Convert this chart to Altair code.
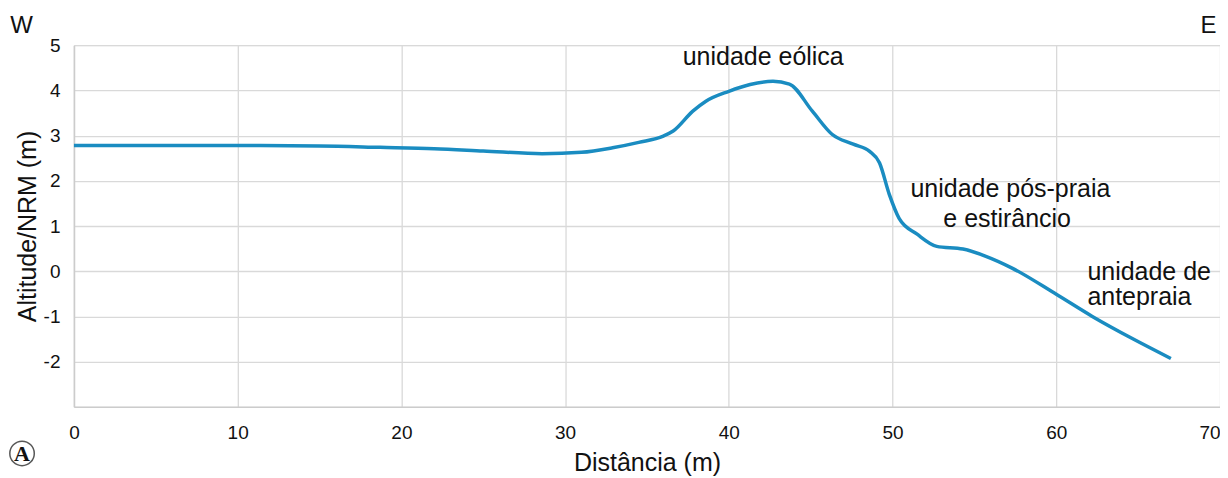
import altair as alt
import pandas as pd

# Profile data (distance m, altitude m)
dist = [0, 5, 10, 15, 18.7, 22, 25, 28.6, 31, 32.9, 34.5, 36.0, 36.6, 37.8, 38.6, 40.0,
        41.3, 42.7, 43.7, 45.1, 46.3, 47.6, 48.6, 49.2, 49.8, 50.4, 51.5, 52.7,
        54.3, 55.7, 57.3, 60.0, 62.2, 64.7, 67.0]
alt_m = [2.78, 2.78, 2.78, 2.77, 2.74, 2.71, 2.66, 2.60, 2.63, 2.73, 2.85, 2.99, 3.10, 3.54, 3.76, 3.98,
         4.13, 4.20, 4.14, 3.54, 3.03, 2.81, 2.65, 2.40, 1.70, 1.17, 0.82, 0.55,
         0.49, 0.33, 0.07, -0.51, -1.00, -1.50, -1.93]

# Annotations
ann_text = ["unidade eólica", "unidade pós-praia", "e estirâncio"]
ann_x = [42.1, 57.2, 57.0]
ann_y = [4.73, 1.81, 1.15]

ann2_text = ["unidade de", "antepraia"]
ann2_x = [61.9, 61.9]
ann2_y = [-0.02, -0.58]

side_text = ["W", "E"]
side_x = [-3.2, 69.3]
side_y = [5.27, 5.27]

x_ticks = [0, 10, 20, 30, 40, 50, 60, 70]
y_ticks = [-2, -1, 0, 1, 2, 3, 4, 5]

FONT = "Liberation Sans"
COLOR = "#1a8cc1"
TXT = 25

prof = pd.DataFrame({"x": dist, "y": alt_m})
ann = pd.DataFrame({"x": ann_x, "y": ann_y, "t": ann_text})
ann2 = pd.DataFrame({"x": ann2_x, "y": ann2_y, "t": ann2_text})
side = pd.DataFrame({"x": side_x, "y": side_y, "t": side_text})
badge = pd.DataFrame({"x": [-3.17], "y": [-4.03], "t": ["A"]})

xs = alt.Scale(domain=[0, 70], nice=False, zero=False)
ys = alt.Scale(domain=[-3, 5], nice=False, zero=False)

line = alt.Chart(prof).mark_line(color=COLOR, strokeWidth=3.5, interpolate="monotone").encode(
    x=alt.X("x:Q", scale=xs, title="Distância (m)",
            axis=alt.Axis(values=x_ticks, grid=True, gridColor="#d9d9d9", gridWidth=1.3,
                          domainColor="#cccccc", domainWidth=1.5, ticks=False,
                          labelExpr="toString(datum.value)",
                          labelFlush=False,
                          labelAlign=alt.expr("datum.value == 70 ? 'right' : 'center'"),
                          labelFont=FONT, labelFontSize=19, labelColor="#111",
                          labelPadding=17, titleFont=FONT, titleFontSize=TXT,
                          titleFontWeight="normal", titleColor="#111", titlePadding=8)),
    y=alt.Y("y:Q", scale=ys, title="Altitude/NRM (m)",
            axis=alt.Axis(values=y_ticks, grid=True, gridColor="#d9d9d9", gridWidth=1.3,
                          domainColor="#cccccc", domainWidth=1.5, ticks=False,
                          labelExpr="toString(datum.value)",
                          labelFont=FONT, labelFontSize=19, labelColor="#111",
                          labelPadding=14, titleFont=FONT, titleFontSize=TXT,
                          titleFontWeight="normal", titleColor="#111", titlePadding=3)),
)

t1 = alt.Chart(ann).mark_text(font=FONT, fontSize=TXT, color="#111", align="center", baseline="middle").encode(
    x=alt.X("x:Q", scale=xs), y=alt.Y("y:Q", scale=ys), text="t:N")
t2 = alt.Chart(ann2).mark_text(font=FONT, fontSize=TXT, color="#111", align="left", baseline="middle").encode(
    x=alt.X("x:Q", scale=xs), y=alt.Y("y:Q", scale=ys), text="t:N")
t3 = alt.Chart(side).mark_text(font=FONT, fontSize=24, color="#111", align="center", baseline="alphabetic").encode(
    x=alt.X("x:Q", scale=xs), y=alt.Y("y:Q", scale=ys), text="t:N")
circ = alt.Chart(badge).mark_point(shape="circle", size=600, color="#111", strokeWidth=1.5, filled=False).encode(
    x=alt.X("x:Q", scale=xs), y=alt.Y("y:Q", scale=ys))
ta = alt.Chart(badge).mark_text(font="Liberation Serif", fontSize=22, fontWeight="bold", color="#111",
                                align="center", baseline="middle", dy=1).encode(
    x=alt.X("x:Q", scale=xs), y=alt.Y("y:Q", scale=ys), text="t:N")

chart = alt.layer(line, t1, t2, t3, circ, ta).properties(
    width=1147, height=362,
    autosize=alt.AutoSizeParams(type="none"),
    padding={"left": 66, "top": 37, "right": 0, "bottom": 75},
).configure_view(stroke="#d9d9d9", strokeWidth=1.3).configure(background="white")

chart.save("out.html", embed_options={"renderer": "svg", "actions": False})
